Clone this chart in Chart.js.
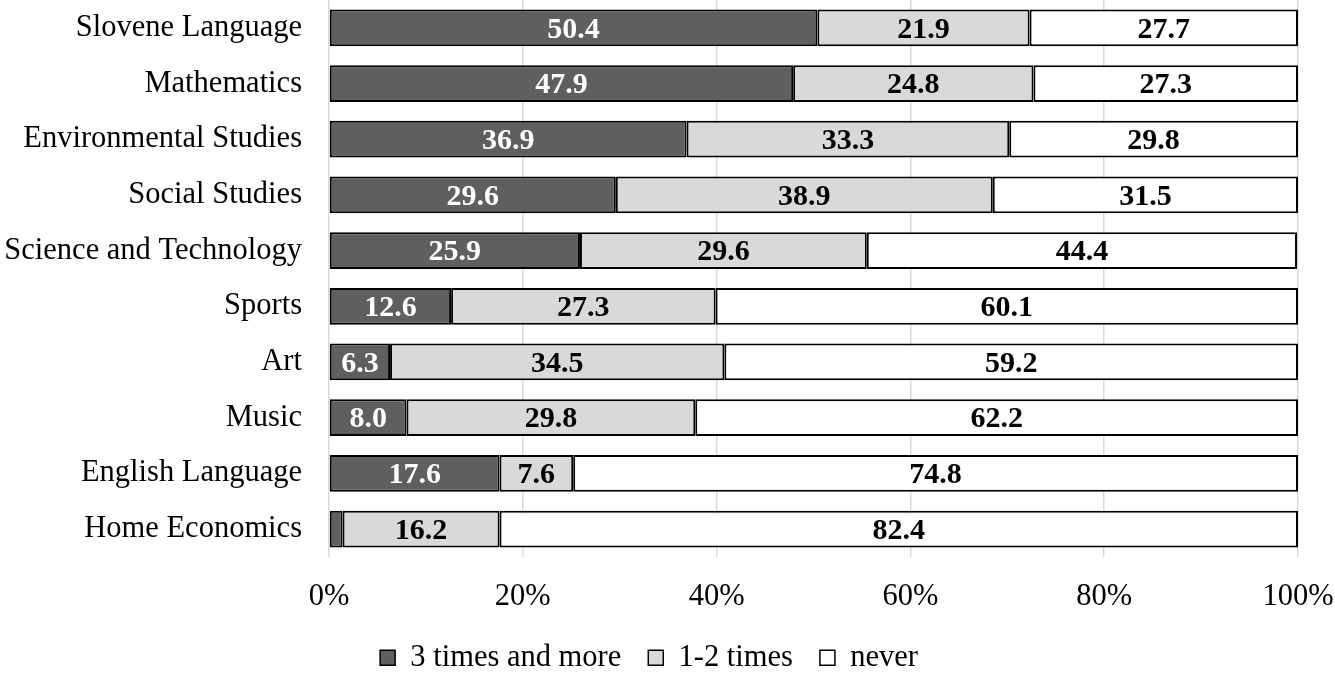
<!DOCTYPE html>
<html>
<head>
<meta charset="utf-8">
<script src="https://cdn.jsdelivr.net/npm/chart.js@4"></script>
<style>
  html, body { margin: 0; padding: 0; background: #fff; }
  #wrap { width: 1335px; height: 677px; }
</style>
</head>
<body>
<div id="wrap"><canvas id="chart"></canvas></div>
<script>
const subjects = ['Slovene Language', 'Mathematics', 'Environmental Studies', 'Social Studies',
  'Science and Technology', 'Sports', 'Art', 'Music', 'English Language', 'Home Economics'];
const threeOrMore = [50.4, 47.9, 36.9, 29.6, 25.9, 12.6, 6.3, 8.0, 17.6, 1.4];
const oneTwo = [21.9, 24.8, 33.3, 38.9, 29.6, 27.3, 34.5, 29.8, 7.6, 16.2];
const never = [27.7, 27.3, 29.8, 31.5, 44.4, 60.1, 59.2, 62.2, 74.8, 82.4];
const seriesNames = ['3 times and more', '1-2 times', 'never'];

const FONT = "'Liberation Serif', 'Times New Roman', serif";
const FS = 30.5;

// draws the numbers inside each bar segment
const barLabels = {
  id: 'barLabels',
  afterDatasetsDraw(chart) {
    const ctx = chart.ctx;
    ctx.save();
    ctx.font = 'bold 30px ' + FONT;
    ctx.textAlign = 'center';
    ctx.textBaseline = 'middle';
    chart.data.datasets.forEach((ds, i) => {
      chart.getDatasetMeta(i).data.forEach((bar, j) => {
        const v = ds.data[j];
        if (v < 3) return;
        const x = (bar.x + bar.base) / 2;
        ctx.fillStyle = i === 0 ? '#ffffff' : '#000000';
        ctx.fillText(v.toFixed(1), x, bar.y + 2);
      });
    });
    ctx.restore();
  }
};

new Chart(document.getElementById('chart'), {
  type: 'bar',
  data: {
    labels: subjects,
    datasets: [
      { label: seriesNames[0], data: threeOrMore, backgroundColor: '#5f5f5f' },
      { label: seriesNames[1], data: oneTwo, backgroundColor: '#d9d9d9' },
      { label: seriesNames[2], data: never, backgroundColor: '#ffffff' }
    ]
  },
  options: {
    indexAxis: 'y',
    responsive: true,
    maintainAspectRatio: false,
    animation: false,
    layout: { padding: { top: 0, right: 37, bottom: -6, left: 0 } },
    datasets: {
      bar: {
        borderColor: '#000000',
        borderWidth: 2,
        borderSkipped: false,
        barPercentage: 0.66,
        categoryPercentage: 1
      }
    },
    scales: {
      x: {
        stacked: true,
        min: 0,
        max: 100,
        ticks: {
          stepSize: 20,
          callback: v => v + '%',
          color: '#000',
          font: { family: FONT, size: FS },
          padding: 0
        },
        grid: { color: '#d9d9d9', lineWidth: 1.5, drawTicks: true, tickLength: 22, tickColor: 'rgba(0,0,0,0)' },
        border: { display: false }
      },
      y: {
        stacked: true,
        ticks: {
          color: '#000',
          font: { family: FONT, size: FS },
          padding: 0
        },
        grid: { display: false, drawTicks: true, tickLength: 27 },
        border: { display: false },
        afterFit: s => { s.width = 329; s.paddingTop = 0; s.paddingBottom = 0; }
      }
    },
    plugins: {
      legend: {
        position: 'bottom',
        labels: {
          color: '#000',
          font: { family: FONT, size: FS },
          boxWidth: 15,
          boxHeight: 15,
          padding: 27,
          generateLabels: chart => chart.data.datasets.map((ds, i) => ({
            text: ds.label,
            fillStyle: ds.backgroundColor,
            strokeStyle: '#000',
            lineWidth: 1.5,
            datasetIndex: i
          }))
        }
      },
      tooltip: { enabled: false }
    }
  },
  plugins: [barLabels]
});
</script>
</body>
</html>
